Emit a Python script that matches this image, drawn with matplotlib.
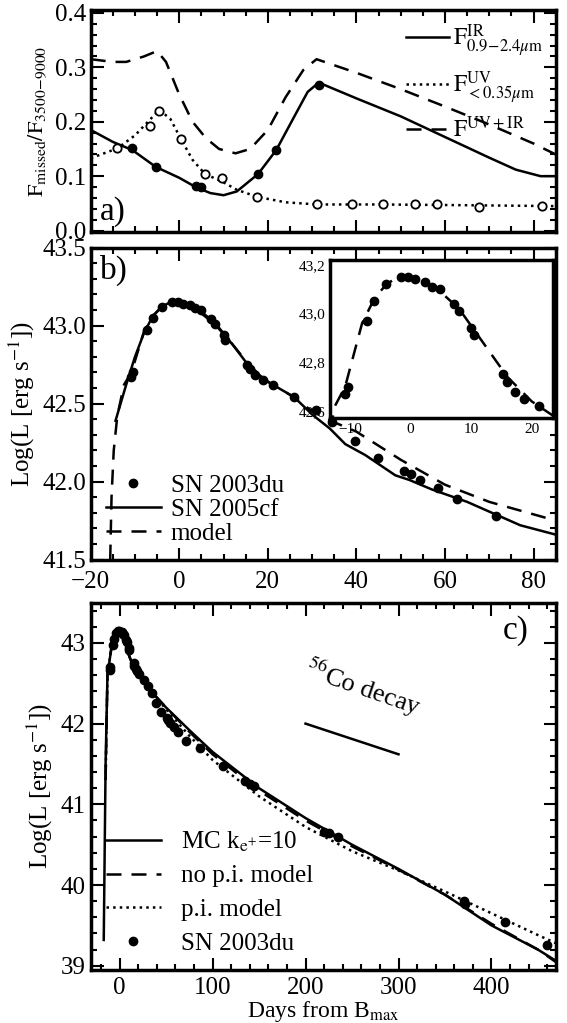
import numpy as np
import matplotlib.pyplot as plt
from matplotlib.ticker import AutoMinorLocator

plt.rcParams['font.family'] = ['Liberation Serif', 'DejaVu Serif']
plt.rcParams['mathtext.fontset'] = 'stix'
plt.rcParams['font.size'] = 17

# ---- panel a data ----
ir_pts_x = [-10.6, -5.3, 3.7, 4.9, 17.8, 21.9, 31.5]
ir_pts_y = [0.151, 0.117, 0.082, 0.080, 0.104, 0.148, 0.268]
ir_line_x = [-20, -15, -10.6, -5.3, 0, 3.7, 7, 10, 13, 17.8, 21.9, 26, 29, 31.5, 40, 50, 60, 70, 76, 81.6, 85]
ir_line_y = [0.185, 0.163, 0.148, 0.117, 0.097, 0.080, 0.069, 0.065, 0.072, 0.104, 0.148, 0.210, 0.255, 0.272, 0.243, 0.210, 0.172, 0.134, 0.112, 0.100, 0.100]
uv_pts_x = [-14, -6.5, -4.5, 0.4, 5.8, 9.7, 17.6, 31.2, 38.9, 45.9, 53.3, 58.3, 67.6, 82]
uv_pts_y = [0.151, 0.193, 0.220, 0.168, 0.104, 0.097, 0.062, 0.048, 0.048, 0.049, 0.048, 0.049, 0.044, 0.045]
uv_line_x = [-20, -14, -10, -6.5, -4.5, -2, 0.4, 3, 5.8, 9.7, 13, 17.6, 24, 31.2, 45, 60, 85]
uv_line_y = [0.133, 0.151, 0.175, 0.205, 0.222, 0.205, 0.168, 0.130, 0.104, 0.090, 0.075, 0.062, 0.052, 0.048, 0.048, 0.047, 0.045]
tot_line_x = [-20, -15, -12, -8, -5, -3, 0, 3, 6, 9, 12.7, 16, 20, 24, 28, 31, 40, 50, 60, 70, 80, 85]
tot_line_y = [0.315, 0.310, 0.310, 0.320, 0.330, 0.310, 0.250, 0.200, 0.170, 0.150, 0.142, 0.150, 0.185, 0.245, 0.295, 0.315, 0.290, 0.260, 0.228, 0.195, 0.160, 0.140]

# ---- SN 2003du bolometric points ----
du_x = [-10.8, -10.4, -7.2, -6.0, -4.0, -1.6, -0.4, 0.8, 2.4, 3.6, 4.8, 7.2, 8.0, 10.0, 10.4, 15.2,
        16.0, 17.2, 18.8, 21.2, 26.0, 30.8, 34.4, 39.6, 44.8, 50.8, 52.4, 54.4, 58.4, 62.8, 71.6]
du_y = [42.67, 42.70, 42.97, 43.05, 43.12, 43.15, 43.15, 43.14, 43.13, 43.11, 43.10, 43.04, 43.01, 42.94, 42.91, 42.75,
        42.72, 42.68, 42.65, 42.62, 42.54, 42.46, 42.38, 42.26, 42.15, 42.07, 42.05, 42.01, 41.96, 41.89, 41.78]
cf_x = [-14.4, -12, -10, -8, -6, -4, -2, 0, 4, 8, 12, 16, 20, 26, 30, 34, 37.5, 42, 48.8, 52, 57, 65, 77, 85]
cf_y = [42.39, 42.62, 42.80, 42.95, 43.06, 43.12, 43.15, 43.14, 43.10, 43.01, 42.88, 42.73, 42.64, 42.54, 42.43, 42.34, 42.24, 42.17, 42.04, 42.01, 41.95, 41.87, 41.72, 41.66]
mod_x = [-15.6, -15.3, -14.8, -14, -12.5, -10.8, -8, -6, -4, -2, 0, 4, 8, 12, 16, 20, 26, 30, 35, 40, 50, 60, 70, 85]
mod_y = [41.5, 41.9, 42.2, 42.42, 42.62, 42.70, 42.96, 43.06, 43.12, 43.15, 43.15, 43.11, 43.02, 42.88, 42.74, 42.64, 42.54, 42.45, 42.38, 42.32, 42.14, 41.98, 41.87, 41.75]

# ---- panel c ----
late_x = [86.5, 111, 135, 140, 145, 220, 225, 235, 370, 372, 415, 460]
late_y = [41.70, 41.48, 41.29, 41.25, 41.23, 40.66, 40.64, 40.60, 39.80, 39.76, 39.54, 39.26]
mc_x = [-17, -15, -13, -8, -2, 4, 10, 15, 30, 50, 75, 100, 150, 200, 250, 300, 350, 400, 450, 475]
mc_y = [39.32, 41.5, 42.6, 43.0, 43.15, 43.08, 42.85, 42.7, 42.45, 42.2, 41.92, 41.65, 41.2, 40.83, 40.5, 40.2, 39.88, 39.5, 39.2, 39.02]
nopi_x = [-15, -13, -8, -2, 4, 10, 15, 30, 50, 75, 100, 150, 200, 250, 300, 350, 400, 450, 475]
nopi_y = [41.3, 42.6, 43.0, 43.15, 43.08, 42.85, 42.7, 42.45, 42.2, 41.9, 41.62, 41.17, 40.8, 40.48, 40.19, 39.88, 39.52, 39.2, 39.0]
pi_x = [-15, -13, -8, -2, 4, 10, 15, 30, 50, 75, 100, 150, 200, 250, 300, 350, 400, 450, 475]
pi_y = [41.3, 42.6, 43.0, 43.15, 43.08, 42.85, 42.7, 42.45, 42.18, 41.85, 41.55, 41.1, 40.72, 40.42, 40.18, 39.92, 39.65, 39.38, 39.25]
co_x = [200, 300]
co_y = [42.0, 41.62]


def style(ax):
    for s in ax.spines.values():
        s.set_linewidth(2.5)
    ax.xaxis.set_minor_locator(AutoMinorLocator())
    ax.yaxis.set_minor_locator(AutoMinorLocator())
    ax.tick_params(which='both', direction='in', top=True, right=True, width=1.5)
    ax.tick_params(which='major', length=9, labelsize=18)
    ax.tick_params(which='minor', length=4)


fig = plt.figure(figsize=(5.67, 10.23), dpi=100)

# panel a
ax1 = fig.add_axes([0.160, 0.773, 0.820, 0.217])
ax1.plot(ir_line_x, ir_line_y, 'k-', lw=1.8, label=r'$\mathrm{F}^{\mathrm{IR}}_{0.9\!-\!2.4\mu\mathrm{m}}$')
ax1.plot(uv_line_x, uv_line_y, 'k:', lw=1.8, label=r'$\mathrm{F}^{\mathrm{UV}}_{<0.35\mu\mathrm{m}}$')
ax1.plot(tot_line_x, tot_line_y, 'k--', lw=1.8, dashes=(6, 4), label=r'$\mathrm{F}^{\mathrm{UV+IR}}$')
ax1.plot(ir_pts_x, ir_pts_y, 'ko', ms=6)
ax1.plot(uv_pts_x, uv_pts_y, 'o', mfc='white', mec='k', mew=1.3, ms=6)
ax1.set_xlim(-20, 85)
ax1.set_ylim(-0.003, 0.405)
ax1.set_yticks([0.0, 0.1, 0.2, 0.3, 0.4])
ax1.set_xticks([-20, 0, 20, 40, 60, 80])
ax1.set_ylabel(r'$\mathrm{F}_{\mathrm{missed}}/\mathrm{F}_{3500\!-\!9000}$', fontsize=16)
ax1.text(-18, 0.02, 'a)', fontsize=24)
ax1.legend(loc='upper right', frameon=False, handlelength=1.8, fontsize=17,
           borderaxespad=0.1, labelspacing=0.45, handletextpad=0.2)
style(ax1)
ax1.set_xticklabels([])

# panel b
ax2 = fig.add_axes([0.160, 0.453, 0.820, 0.305])
ax2.plot(du_x, du_y, 'ko', ms=6, label='SN 2003du')
ax2.plot(cf_x, cf_y, 'k-', lw=1.8, label='SN 2005cf')
ax2.plot(mod_x, mod_y, 'k--', lw=1.8, dashes=(6, 4), label='model')
ax2.set_xlim(-20, 85)
ax2.set_ylim(41.5, 43.5)
ax2.set_yticks([41.5, 42.0, 42.5, 43.0, 43.5])
ax2.set_xticks([-20, 0, 20, 40, 60, 80])
ax2.set_ylabel(r'Log(L [erg s$^{-1}$])', fontsize=18)
ax2.text(-18, 43.3, 'b)', fontsize=24)
ax2.legend(loc='lower left', frameon=False, handlelength=2.2, fontsize=18,
           borderaxespad=0.2, labelspacing=0.05, handletextpad=0.4)
style(ax2)
ax2.tick_params(axis='x', pad=8)

# inset
axi = fig.add_axes([0.582, 0.591, 0.393, 0.155])
axi.plot([x for x in du_x if x < 22], [y for x, y in zip(du_x, du_y) if x < 22], 'ko', ms=6)
axi.plot(mod_x, mod_y, 'k--', lw=1.8, dashes=(6, 4))
axi.set_xlim(-13.3, 23.5)
axi.set_ylim(42.57, 43.22)
axi.set_yticks([42.6, 42.8, 43.0, 43.2])
axi.set_yticklabels(['42,6', '42,8', '43,0', '43,2'])
axi.set_xticks([-10, 0, 10, 20])
axi.set_xticklabels(['\u221210', '0', '10', '20'])
for s in axi.spines.values():
    s.set_linewidth(2.5)
axi.tick_params(direction='in', length=0, labelsize=11, pad=3)

# panel c
ax3 = fig.add_axes([0.160, 0.052, 0.820, 0.359])
ax3.plot(mc_x, mc_y, 'k-', lw=1.8, label=r'MC k$_{\mathrm{e}^{+}}$=10')
ax3.plot(nopi_x, nopi_y, 'k--', lw=1.8, dashes=(6, 4), label='no p.i. model')
ax3.plot(pi_x, pi_y, 'k:', lw=1.8, label='p.i. model')
ax3.plot(du_x + late_x, du_y + late_y, 'ko', ms=6, label='SN 2003du')
ax3.plot(co_x, co_y, 'k-', lw=1.8)
ax3.text(195, 42.1, r'$^{56}$Co decay', rotation=-19, fontsize=19)
ax3.set_xlim(-31, 469)
ax3.set_ylim(38.95, 43.5)
ax3.set_yticks([39, 40, 41, 42, 43])
ax3.set_xticks([0, 100, 200, 300, 400])
ax3.set_ylabel(r'Log(L [erg s$^{-1}$])', fontsize=18)
ax3.set_xlabel(r'Days from B$_{\mathrm{max}}$', fontsize=17, labelpad=0)
ax3.text(440, 43.05, 'c)', fontsize=24, ha='right')
ax3.legend(loc='lower left', frameon=False, handlelength=2.2, fontsize=18,
           borderaxespad=0.2, labelspacing=0.45, handletextpad=0.8)
style(ax3)
ax3.tick_params(axis='x', pad=5)

fig.savefig('out.png', dpi=100)
